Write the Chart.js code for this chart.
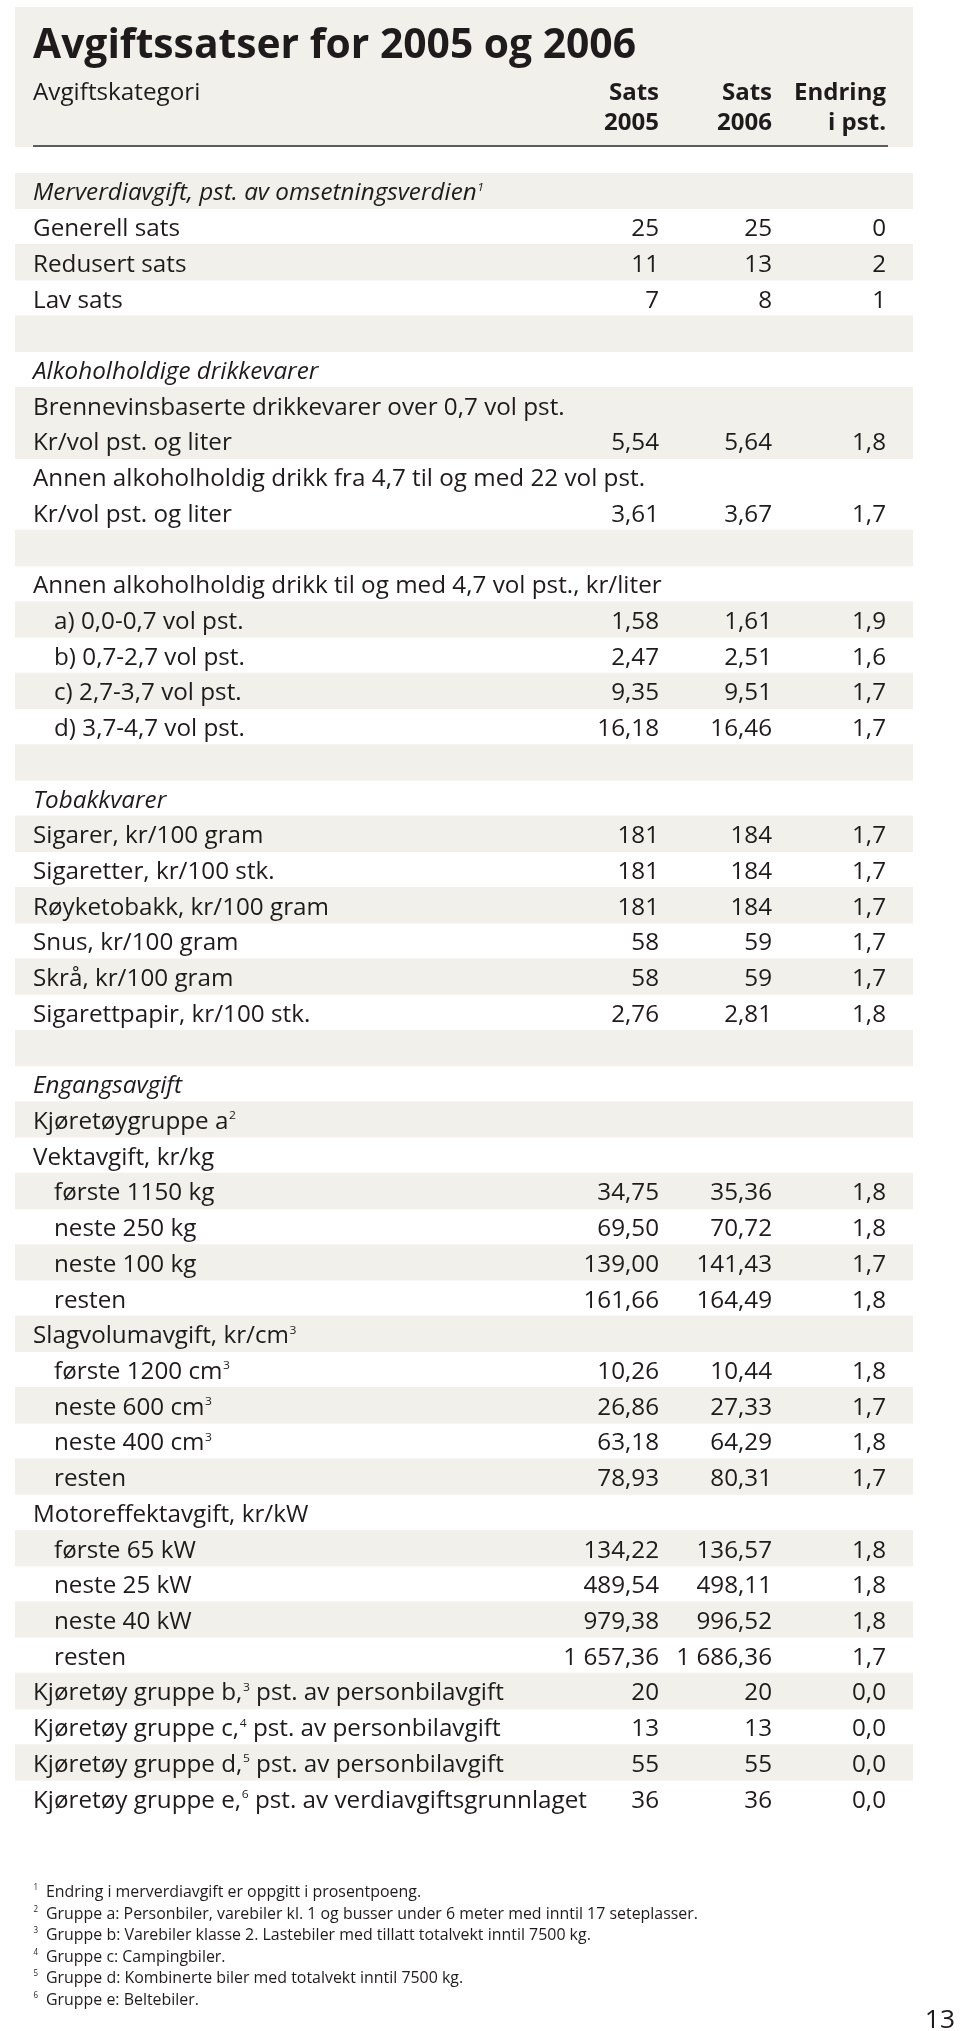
<!DOCTYPE html>
<html lang="no">
<head>
<meta charset="utf-8">
<title>Avgiftssatser for 2005 og 2006</title>
<script src="https://cdn.jsdelivr.net/npm/chart.js@4.4.1/dist/chart.umd.min.js"></script>
<style>
  html, body { margin: 0; padding: 0; background: #ffffff; }
  canvas { display: block; }
</style>
</head>
<body>
<canvas id="c" width="960" height="2031"></canvas>
<script>
// ---------- DATA ----------
const titleText = 'Avgiftssatser for 2005 og 2006';
const categoryHeader = 'Avgiftskategori';
const columnHeaders = [['Sats', '2005'], ['Sats', '2006'], ['Endring', 'i pst.']];

const rowLabels = [
  'Merverdiavgift, pst. av omsetningsverdien¹',
  'Generell sats',
  'Redusert sats',
  'Lav sats',
  '',
  'Alkoholholdige drikkevarer',
  'Brennevinsbaserte drikkevarer over 0,7 vol pst.',
  'Kr/vol pst. og liter',
  'Annen alkoholholdig drikk fra 4,7 til og med 22 vol pst.',
  'Kr/vol pst. og liter',
  '',
  'Annen alkoholholdig drikk til og med 4,7 vol pst., kr/liter',
  'a) 0,0-0,7 vol pst.',
  'b) 0,7-2,7 vol pst.',
  'c) 2,7-3,7 vol pst.',
  'd) 3,7-4,7 vol pst.',
  '',
  'Tobakkvarer',
  'Sigarer, kr/100 gram',
  'Sigaretter, kr/100 stk.',
  'Røyketobakk, kr/100 gram',
  'Snus, kr/100 gram',
  'Skrå, kr/100 gram',
  'Sigarettpapir, kr/100 stk.',
  '',
  'Engangsavgift',
  'Kjøretøygruppe a²',
  'Vektavgift, kr/kg',
  'første 1150 kg',
  'neste 250 kg',
  'neste 100 kg',
  'resten',
  'Slagvolumavgift, kr/cm³',
  'første 1200 cm³',
  'neste 600 cm³',
  'neste 400 cm³',
  'resten',
  'Motoreffektavgift, kr/kW',
  'første 65 kW',
  'neste 25 kW',
  'neste 40 kW',
  'resten',
  'Kjøretøy gruppe b,³ pst. av personbilavgift',
  'Kjøretøy gruppe c,⁴ pst. av personbilavgift',
  'Kjøretøy gruppe d,⁵ pst. av personbilavgift',
  'Kjøretøy gruppe e,⁶ pst. av verdiavgiftsgrunnlaget'
];

const sats2005 = [
  null, 25, 11, 7, null, null, null, 5.54, null, 3.61, null, null,
  1.58, 2.47, 9.35, 16.18, null, null,
  181, 181, 181, 58, 58, 2.76, null, null, null, null,
  34.75, 69.50, 139.00, 161.66, null,
  10.26, 26.86, 63.18, 78.93, null,
  134.22, 489.54, 979.38, 1657.36,
  20, 13, 55, 36
];
const sats2006 = [
  null, 25, 13, 8, null, null, null, 5.64, null, 3.67, null, null,
  1.61, 2.51, 9.51, 16.46, null, null,
  184, 184, 184, 59, 59, 2.81, null, null, null, null,
  35.36, 70.72, 141.43, 164.49, null,
  10.44, 27.33, 64.29, 80.31, null,
  136.57, 498.11, 996.52, 1686.36,
  20, 13, 55, 36
];
const endringPst = [
  null, 0, 2, 1, null, null, null, 1.8, null, 1.7, null, null,
  1.9, 1.6, 1.7, 1.7, null, null,
  1.7, 1.7, 1.7, 1.7, 1.7, 1.8, null, null, null, null,
  1.8, 1.8, 1.7, 1.8, null,
  1.8, 1.7, 1.8, 1.7, null,
  1.8, 1.8, 1.8, 1.7,
  0.0, 0.0, 0.0, 0.0
];
// number of decimals shown for the two rate columns and the change column
const satsDecimals = [
  0, 0, 0, 0, 0, 0, 0, 2, 0, 2, 0, 0,
  2, 2, 2, 2, 0, 0,
  0, 0, 0, 0, 0, 2, 0, 0, 0, 0,
  2, 2, 2, 2, 0,
  2, 2, 2, 2, 0,
  2, 2, 2, 2,
  0, 0, 0, 0
];
const endringDecimals = rowLabels.map((_, i) => (i <= 3 ? 0 : 1));

const italicRows = [0, 5, 17, 25];
const indentedRows = [12, 13, 14, 15, 28, 29, 30, 31, 33, 34, 35, 36, 38, 39, 40, 41];
const continuationRows = [7, 9];   // second line of a two-line entry

const footnotes = [
  '¹ Endring i merverdiavgift er oppgitt i prosentpoeng.',
  '² Gruppe a: Personbiler, varebiler kl. 1 og busser under 6 meter med inntil 17 seteplasser.',
  '³ Gruppe b: Varebiler klasse 2. Lastebiler med tillatt totalvekt inntil 7500 kg.',
  '⁴ Gruppe c: Campingbiler.',
  '⁵ Gruppe d: Kombinerte biler med totalvekt inntil 7500 kg.',
  '⁶ Gruppe e: Beltebiler.'
];
const pageNumber = '13';

// ---------- derived: alternate shading per entry ----------
let entry = -1;
const shading = rowLabels.map((_, i) => {
  if (!continuationRows.includes(i)) entry++;
  return entry % 2 === 0 ? 1 : null;
});

// ---------- style ----------
const FONT = '"Open Sans", "Noto Sans", "DejaVu Sans", sans-serif';
const INK = '#1f1b1c';
const BEIGE = '#f2f0ea';
const COL_RIGHT = [659, 772, 886];
const TEXT_LEFT = 33;
const INDENT = 21;

const SUP = { '¹': '1', '²': '2', '³': '3', '⁴': '4', '⁵': '5', '⁶': '6' };

function fmt(v, d) {
  if (v === null || v === undefined) return '';
  const s = v.toFixed(d);
  let [ip, fp] = s.split('.');
  ip = ip.replace(/\B(?=(\d{3})+(?!\d))/g, ' ');
  return fp !== undefined ? ip + ',' + fp : ip;
}

function splitRuns(text) {
  const out = [];
  for (const ch of text) {
    const sup = ch in SUP;
    const c = sup ? SUP[ch] : ch;
    const last = out[out.length - 1];
    if (last && last.sup === sup) last.t += c; else out.push({ t: c, sup });
  }
  return out;
}

function fontStr(o, sup) {
  const size = sup ? o.size * 0.5 : o.size;
  return `${o.style || 'normal'} ${o.weight || 400} ${size}px ${FONT}`;
}

function drawText(ctx, text, x, y, o) {
  const rs = splitRuns(text);
  const widths = rs.map(r => { ctx.font = fontStr(o, r.sup); return ctx.measureText(r.t).width; });
  const total = widths.reduce((a, b) => a + b, 0);
  ctx.save();
  ctx.translate(x, y);
  ctx.scale(o.sx || 1, 1);
  ctx.fillStyle = o.color || INK;
  ctx.textAlign = 'left';
  ctx.textBaseline = 'alphabetic';
  let cx = o.align === 'right' ? -total : 0;
  rs.forEach((r, i) => {
    ctx.font = fontStr(o, r.sup);
    ctx.fillText(r.t, cx + (r.sup ? 0.5 : 0), r.sup ? -o.size * 0.42 : 0);
    cx += widths[i] + (r.sup ? 0.5 : 0);
  });
  ctx.restore();
}

function scaleFor(ctx, text, o, target) {
  ctx.font = fontStr(o, false);
  const w = ctx.measureText(text).width;
  return w > 0 ? target / w : 1;
}

const tablePlugin = {
  id: 'tableText',
  beforeDatasetsDraw(chart) {
    const ctx = chart.ctx;
    const a = chart.chartArea;
    ctx.save();
    ctx.fillStyle = BEIGE;
    ctx.fillRect(a.left, 7, a.right - a.left, 140);
    ctx.strokeStyle = '#5c5c5c';
    ctx.lineWidth = 2;
    ctx.beginPath();
    ctx.moveTo(TEXT_LEFT, 146);
    ctx.lineTo(COL_RIGHT[2] + 2, 146);
    ctx.stroke();
    ctx.restore();
  },
  afterDatasetsDraw(chart) {
    const ctx = chart.ctx;
    const y = chart.scales.y;

    const body = { size: 23 };
    body.sx = scaleFor(ctx, rowLabels[8], body, 612);
    const title = { size: 41, weight: 700 };
    title.sx = scaleFor(ctx, titleText, title, 603);
    const head = { size: 23, weight: 700 };
    head.sx = scaleFor(ctx, 'Endring', head, 92);
    const foot = { size: 16.5 };
    foot.sx = scaleFor(ctx, footnotes[1].slice(2), foot, 652);

    // title and column header
    drawText(ctx, titleText, TEXT_LEFT, 58, title);
    drawText(ctx, categoryHeader, TEXT_LEFT, 100, body);
    columnHeaders.forEach((h, k) => {
      drawText(ctx, h[0], COL_RIGHT[k], 100, { ...head, align: 'right' });
      drawText(ctx, h[1], COL_RIGHT[k], 130, { ...head, align: 'right' });
    });

    // rows
    rowLabels.forEach((lab, i) => {
      const cy = y.getPixelForValue(i) + 9.5;
      const o = { ...body, style: italicRows.includes(i) ? 'italic' : 'normal' };
      const x = TEXT_LEFT + (indentedRows.includes(i) ? INDENT : 0);
      if (lab) drawText(ctx, lab, x, cy, o);
      const vals = [fmt(sats2005[i], satsDecimals[i]), fmt(sats2006[i], satsDecimals[i]), fmt(endringPst[i], endringDecimals[i])];
      vals.forEach((v, k) => { if (v) drawText(ctx, v, COL_RIGHT[k], cy, { ...body, align: 'right' }); });
    });

    // footnotes
    footnotes.forEach((f, i) => {
      const base = 1897 + i * 21.6;
      const mark = f.slice(0, 1);
      const txt = f.slice(2);
      drawText(ctx, mark, TEXT_LEFT, base, foot);
      drawText(ctx, txt, 46, base, foot);
    });

    drawText(ctx, pageNumber, 955, 2028, { size: 25, sx: body.sx, align: 'right' });
  }
};

new Chart(document.getElementById('c'), {
  type: 'bar',
  data: {
    labels: rowLabels,
    datasets: [{
      label: 'stripe',
      data: shading,
      backgroundColor: BEIGE,
      borderWidth: 0,
      barPercentage: 1,
      categoryPercentage: 1
    }]
  },
  options: {
    indexAxis: 'y',
    responsive: false,
    animation: false,
    devicePixelRatio: 1,
    layout: { padding: { left: 15, right: 47, top: 173, bottom: 215 } },
    scales: {
      x: { type: 'linear', min: 0, max: 1, display: false },
      y: { type: 'category', display: false }
    },
    plugins: { legend: { display: false }, tooltip: { enabled: false }, title: { display: false } },
    events: []
  },
  plugins: [tablePlugin]
});
</script>
</body>
</html>
